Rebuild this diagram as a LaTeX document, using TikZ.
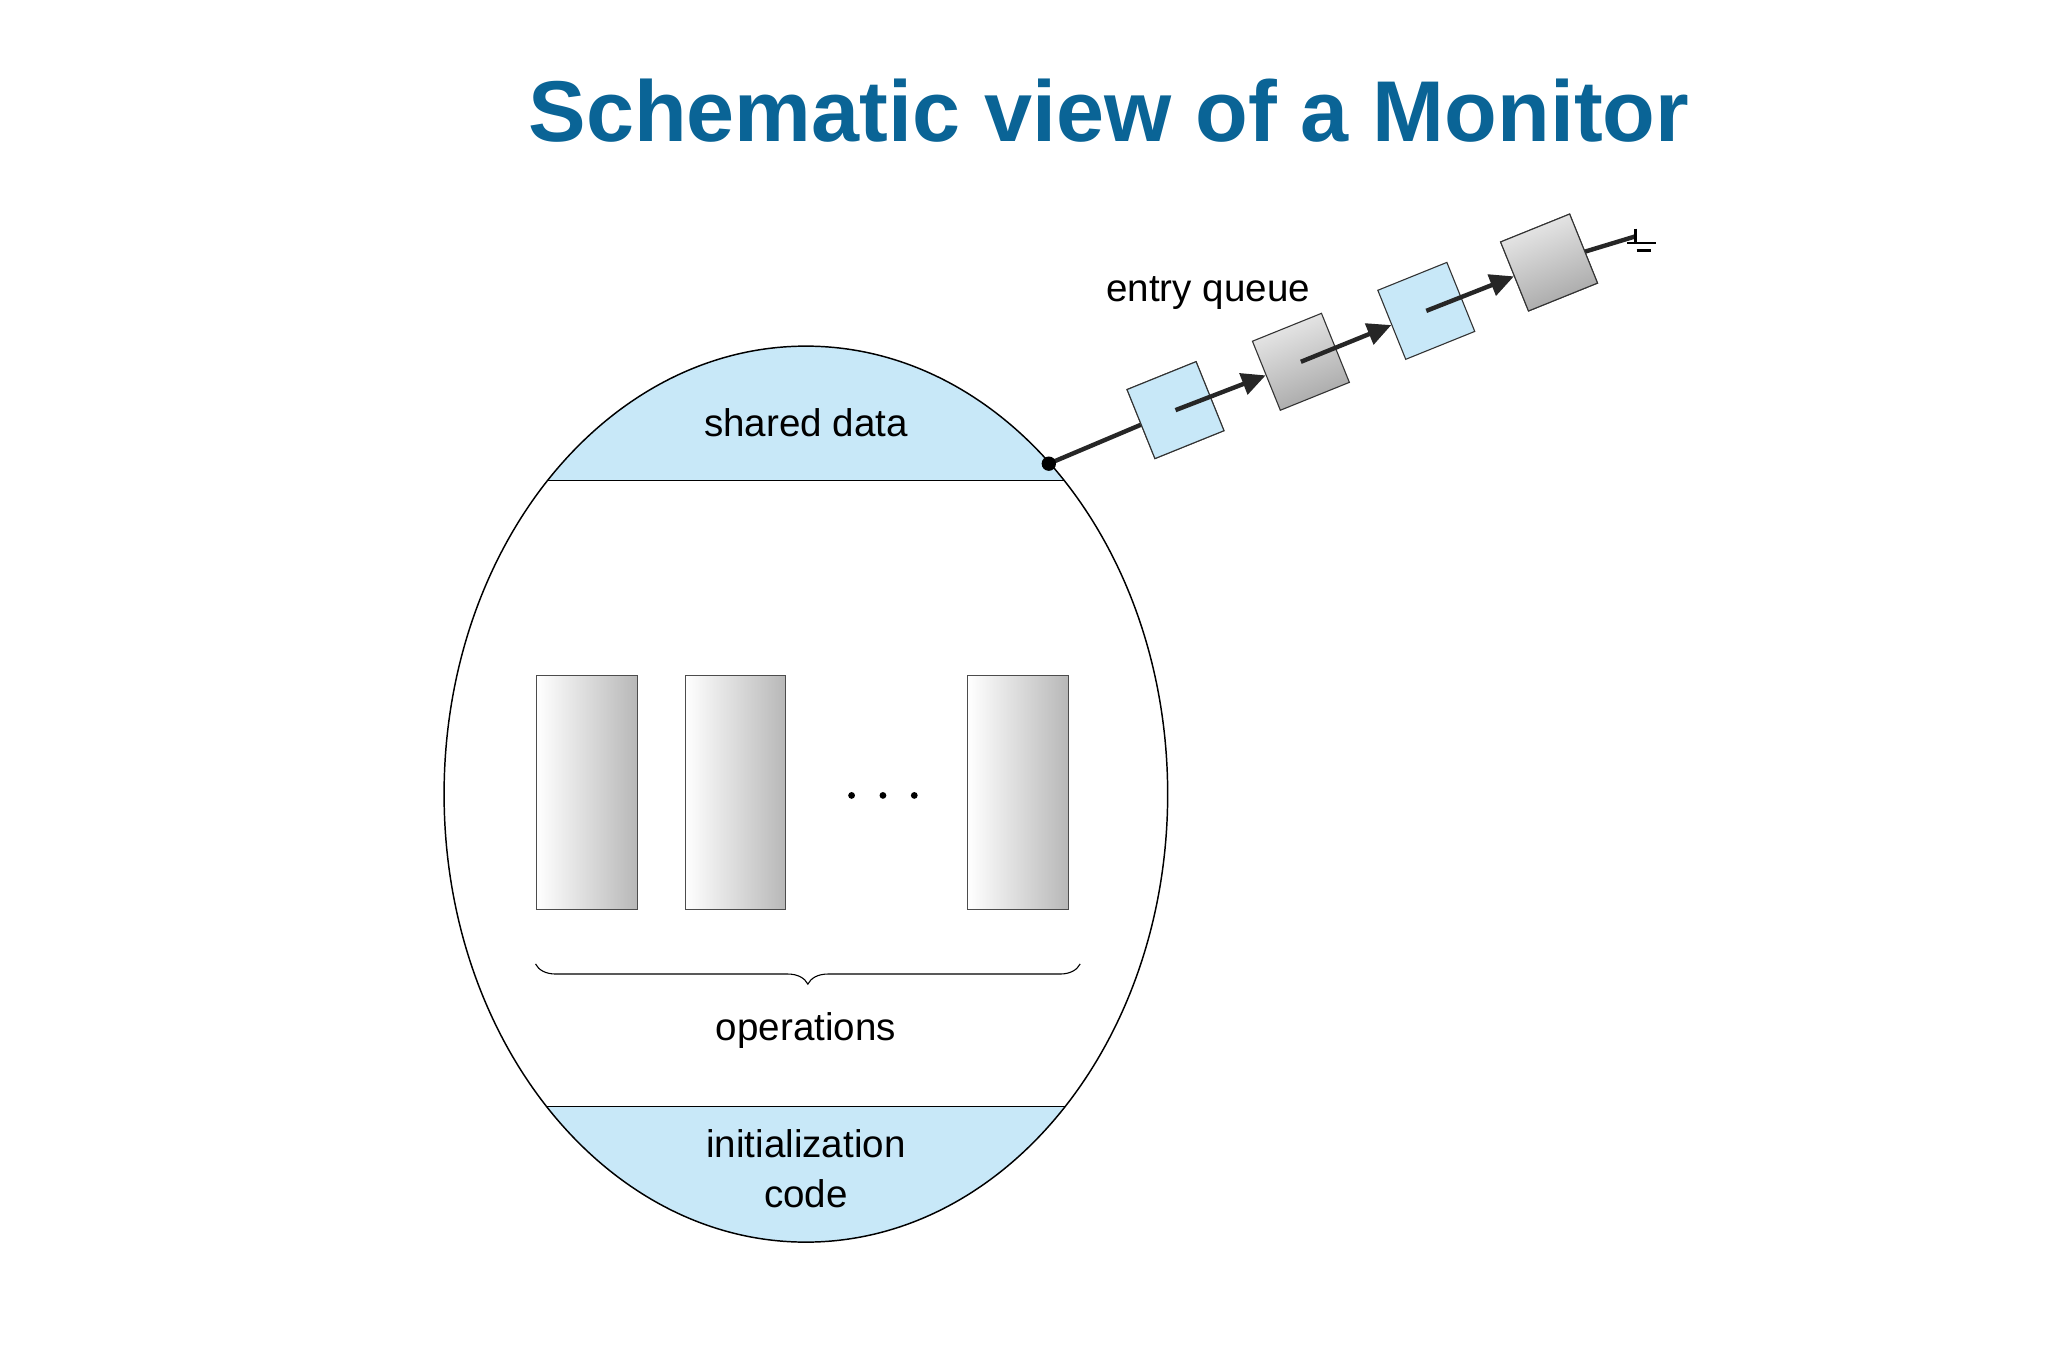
\documentclass[tikz,border=0pt]{standalone}
\usepackage{fontspec}
\setmainfont{Liberation Sans}
\usetikzlibrary{arrows.meta,decorations.pathreplacing}
\definecolor{titleblue}{RGB}{10,100,150}
\definecolor{lblue}{RGB}{200,232,248}
\begin{document}
\begin{tikzpicture}[x=0.025cm,y=-0.025cm,
  txt/.style={font=\fontsize{21pt}{27pt}\selectfont,align=center},
  op/.style={draw=black!70,line width=0.6pt,left color=white,right color=black!28,minimum width=77*0.025cm,minimum height=179*0.025cm,inner sep=0},
  sq/.style={draw=black!80,line width=0.6pt,minimum size=57*0.025cm,rotate=22,inner sep=0},
  bsq/.style={sq,fill=lblue},
  gsq/.style={sq,left color=black!8,right color=black!35,shading angle=22},
  lnk/.style={line width=2.4pt,black!85,-{Triangle[length=13pt,width=12pt]}}]
\useasboundingbox[fill=white] (0,0) rectangle (1568,1045);
\node[font=\fontsize{47pt}{50pt}\selectfont\bfseries,text=titleblue] (title) at (849,85) {Schematic view of a Monitor};
% monitor
\begin{scope}
\clip (617,608) ellipse [x radius=277,y radius=343];
\fill[lblue] (300,250) rectangle (950,368);
\fill[lblue] (300,847) rectangle (950,960);
\draw[line width=0.7pt] (300,368) -- (950,368);
\draw[line width=0.7pt] (300,847) -- (950,847);
\end{scope}
\draw[line width=0.8pt] (617,608) ellipse [x radius=277,y radius=343];
\node[txt] (shared) at (617,324) {shared data};
\node[txt] (init) at (617,895) {initialization\\code};
\node[op] (op1) at (449.5,606.5) {};
\node[op] (op2) at (563,606.5) {};
\node[op] (op3) at (779.5,606.5) {};
\foreach \x in {652,676,700} \fill (\x,609) circle (2.6);
\node (dots) at (676,609) {};
\draw[decorate,decoration={brace,mirror,amplitude=11pt,raise=0pt},line width=0.6pt] (410,738) -- (827,738);
\node[txt] (ops) at (617,789) {operations};
% queue
\coordinate (dot) at (803,355);
\node[bsq] (q1) at (900,314) {};
\node[gsq] (q2) at (996,277) {};
\node[bsq] (q3) at (1092,238) {};
\node[gsq] (q4) at (1186,201) {};
\draw[line width=2.4pt,black!85] (dot) -- (q1);
\fill (dot) circle (5.5);
\node[bsq] at (900,314) {};
\draw[lnk] (q1.center) -- (q2);
\draw[lnk] (q2.center) -- (q3);
\draw[lnk] (q3.center) -- (q4);
\coordinate (gnd) at (1252,181);
\draw[line width=2.4pt,black!85] (q4.center) -- (gnd);
\node[gsq] at (1186,201) {};
\draw[line width=1.5pt] (1252,175) -- (1252,186) (1246,186) -- (1268,186) (1253,192) -- (1264,192);
\node[txt] (eq) at (925,224) {entry queue};
\end{tikzpicture}
\end{document}
